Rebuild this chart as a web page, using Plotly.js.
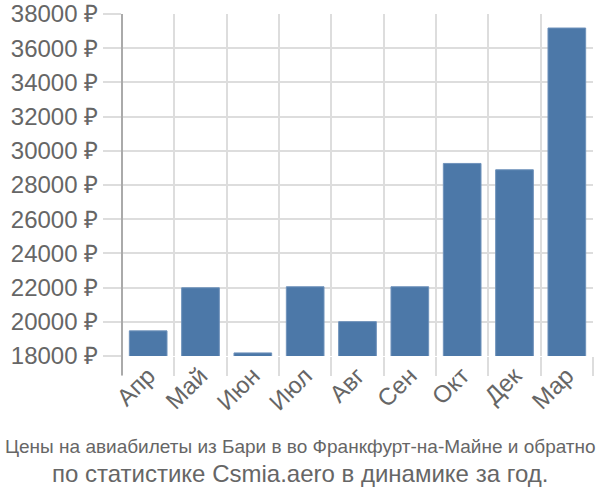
<!DOCTYPE html>
<html>
<head>
<meta charset="utf-8">
<script src="https://cdn.plot.ly/plotly-3.0.1.min.js"></script>
<style>html,body{margin:0;padding:0;background:#fff;}#chart{width:600px;height:500px;}</style>
</head>
<body>
<div id="chart"></div>
<script>
const months = ["Апр", "Май", "Июн", "Июл", "Авг", "Сен", "Окт", "Дек", "Мар"];
const prices = [19470, 21990, 18180, 22050, 20010, 22050, 29260, 28890, 37180];
const titleLine1 = "Цены на авиабилеты из Бари в во Франкфурт-на-Майне и обратно";
const titleLine2 = "по статистике Csmia.aero в динамике за год.";

const trace = {
  type: "bar",
  x: months,
  y: prices,
  marker: {color: "#4c78a8", line: {color: "#6f92bb", width: 1}},
  hoverinfo: "x+y"
};

// page centre (300px) expressed in plot-paper units: (300 - 122) / 471
const centreX = (300 - 122) / 471;

const layout = {
  width: 600,
  height: 500,
  margin: {l: 122, r: 7, t: 14, b: 144},
  paper_bgcolor: "#ffffff",
  plot_bgcolor: "#ffffff",
  bargap: 0.28,
  showlegend: false,
  font: {family: "Liberation Sans, Arial, sans-serif", color: "#666666"},
  xaxis: {
    type: "category",
    tickson: "boundaries",
    ticks: "outside",
    ticklen: 19,
    tickcolor: "#dddddd",
    tickwidth: 2,
    showgrid: true,
    gridcolor: "#dddddd",
    gridwidth: 2,
    tickangle: -45,
    tickfont: {size: 24, color: "#666666"},
    showline: false,
    zeroline: false
  },
  yaxis: {
    range: [18000, 38000],
    dtick: 2000,
    tick0: 18000,
    tickformat: "d",
    ticksuffix: " ₽",
    ticks: "outside",
    ticklen: 18,
    tickcolor: "#dddddd",
    tickwidth: 2,
    showgrid: true,
    gridcolor: "#dddddd",
    gridwidth: 2,
    tickfont: {size: 24, color: "#666666"},
    showline: false,
    zeroline: false
  },
  annotations: [
    {text: titleLine1, xref: "paper", yref: "paper", x: centreX, y: -0.266, xanchor: "center", yanchor: "middle",
     showarrow: false, font: {family: "Liberation Sans, Arial, sans-serif", size: 19, color: "#666666"}},
    {text: titleLine2, xref: "paper", yref: "paper", x: centreX, y: -0.345, xanchor: "center", yanchor: "middle",
     showarrow: false, font: {family: "Liberation Sans, Arial, sans-serif", size: 24, color: "#666666"}}
  ],
  shapes: [
    {type: "line", xref: "paper", yref: "paper", x0: 0, x1: 0, y0: -0.056, y1: 1,
     line: {color: "#aaaaaa", width: 2}}
  ]
};

Plotly.newPlot("chart", [trace], layout, {displayModeBar: false, staticPlot: true});
</script>
</body>
</html>
